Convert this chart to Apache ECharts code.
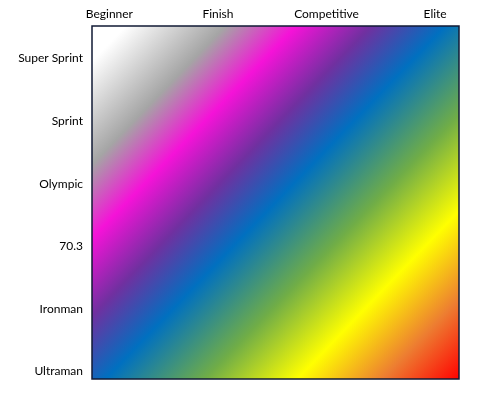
<!DOCTYPE html>
<html>
<head>
<meta charset="utf-8">
<script src="https://cdn.jsdelivr.net/npm/echarts@6/dist/echarts.min.js"></script>
<style>
html,body{margin:0;padding:0;background:#fff;}
#chart{width:490px;height:399px;}
</style>
</head>
<body>
<div id="chart"></div>
<script>
// Column categories (top axis), left to right
var levels = ['Beginner', 'Finish', 'Competitive', 'Elite'];
// Row categories (left axis), top to bottom
var distances = ['Super Sprint', 'Sprint', 'Olympic', '70.3', 'Ironman', 'Ultraman'];
// Diagonal colour ramp (top-left -> bottom-right)
var rampOffsets = [0, 0.05, 0.19, 0.29, 0.395, 0.5, 0.64, 0.77, 0.89, 1];
var rampColors = ['#ffffff', '#ffffff', '#a5a5a5', '#f512d8', '#7030a0', '#0070c0', '#70ad47', '#ffff00', '#ed7d31', '#ff0000'];

var stops = rampOffsets.map(function (o, i) { return { offset: o, color: rampColors[i] }; });
var chart = echarts.init(document.getElementById('chart'), null, { renderer: 'canvas' });

function idxLabel(arr) {
  return function (v) {
    var r = Math.round(v);
    if (Math.abs(v - r) > 1e-6 || r < 0 || r >= arr.length) return '';
    return arr[r];
  };
}

var labelFont = { fontFamily: 'Lato, "Liberation Sans", sans-serif', fontSize: 12, color: '#000' };

chart.setOption({
  animation: false,
  backgroundColor: '#ffffff',
  grid: {
    show: true,
    left: 92, top: 26, right: 31, bottom: 20,
    backgroundColor: new echarts.graphic.LinearGradient(0, 0, 1, 1, stops),
    borderColor: '#101a35',
    borderWidth: 1.5
  },
  xAxis: {
    type: 'value',
    position: 'top',
    min: -0.16, max: 3.22,
    axisLine: { show: false },
    axisTick: { show: false },
    splitLine: { show: false },
    axisLabel: Object.assign({
      margin: 6,
      customValues: levels.map(function (_, i) { return i; }),
      formatter: idxLabel(levels),
      showMinLabel: true, showMaxLabel: true
    }, labelFont)
  },
  yAxis: {
    type: 'value',
    inverse: true,
    min: -0.52, max: 5.12,
    axisLine: { show: false },
    axisTick: { show: false },
    splitLine: { show: false },
    axisLabel: Object.assign({
      margin: 9,
      customValues: distances.map(function (_, i) { return i; }),
      formatter: idxLabel(distances),
      showMinLabel: true, showMaxLabel: true
    }, labelFont)
  },
  series: []
});
</script>
</body>
</html>
